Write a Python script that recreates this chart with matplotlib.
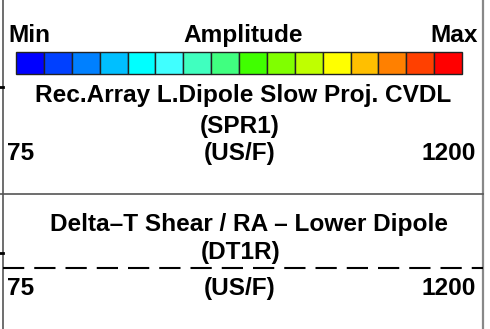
import matplotlib
matplotlib.use("Agg")
import matplotlib.pyplot as plt

# Colour scale cells (Min -> Max)
scale_colors = [
    "#0000FF", "#0040FF", "#0080FF", "#00BFFF",
    "#00FFFF", "#40FFFF", "#40FFBF", "#40FF80",
    "#40FF00", "#80FF00", "#BFFF00", "#FFFF00",
    "#FFBF00", "#FF8000", "#FF4000", "#FF0000",
]
scale_labels = ["Min", "Amplitude", "Max"]

# Curve headers
curve_names = ["Rec.Array L.Dipole Slow Proj. CVDL", "Delta\u2013T Shear / RA \u2013 Lower Dipole"]
curve_mnemonics = ["(SPR1)", "(DT1R)"]
curve_units = ["(US/F)", "(US/F)"]
curve_left = [75, 75]
curve_right = [1200, 1200]

plt.rcParams["font.family"] = ["Liberation Sans", "DejaVu Sans"]
W, H = 490, 329
fig = plt.figure(figsize=(W / 100, H / 100), dpi=100)
ax = fig.add_axes([0, 0, 1, 1])
ax.set_xlim(0, W)
ax.set_ylim(H, 0)
ax.axis("off")

fs = 17.6
txt = dict(fontsize=fs, fontweight="bold", color="black", va="baseline")

# Frame lines
ax.plot([3, 3], [0, H], color="#555555", lw=1.2)
ax.plot([483, 483], [0, H], color="#888888", lw=1.6)
ax.plot([0, 483], [194, 194], color="#555555", lw=1.2)
for yt in [87, 253]:
    ax.plot([0, 3], [yt, yt], color="black", lw=2)

# Colour scale header
ax.text(8, 42, scale_labels[0], ha="left", **txt)
ax.text(243, 42, scale_labels[1], ha="center", **txt)
ax.text(478, 42, scale_labels[2], ha="right", **txt)

cax = fig.add_axes([16 / W, 1 - 74 / H, 446 / W, 22 / H])
cax.bar(range(len(scale_colors)), 1, width=1, color=scale_colors,
        edgecolor="#222222", linewidth=1.0, clip_on=False)
cax.set_xlim(-0.5, len(scale_colors) - 0.5)
cax.set_ylim(0, 1)
cax.axis("off")

# Curve 1 header
ax.text(243.5, 102, curve_names[0], ha="center", **txt)
ax.text(240, 133, curve_mnemonics[0], ha="center", **txt)
ax.text(7, 160, str(curve_left[0]), ha="left", **txt)
ax.text(240, 160, curve_units[0], ha="center", **txt)
ax.text(476, 160, str(curve_right[0]), ha="right", **txt)

# Curve 2 header
ax.text(249, 231, curve_names[1], ha="center", **txt)
ax.text(241, 259, curve_mnemonics[1], ha="center", **txt)
ax.plot([3, 483], [268, 268], color="black", lw=1.5,
        linestyle=(0, (10.2, 4.8)))
ax.text(7, 295, str(curve_left[1]), ha="left", **txt)
ax.text(240, 295, curve_units[1], ha="center", **txt)
ax.text(476, 295, str(curve_right[1]), ha="right", **txt)

fig.savefig("out.png", dpi=100)
